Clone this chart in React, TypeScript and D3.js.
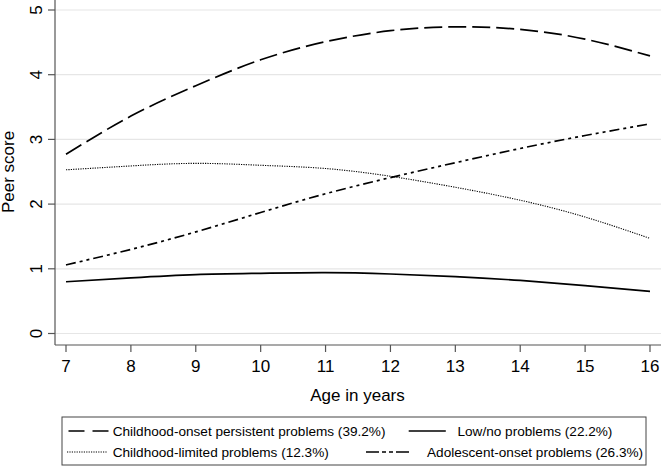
import React from "react";
import * as d3 from "d3";

const ages = [7, 8, 9, 10, 11, 12, 13, 14, 15, 16];
const childhoodOnset = [2.77, 3.36, 3.83, 4.23, 4.51, 4.68, 4.74, 4.70, 4.55, 4.29];
const lowNo = [0.80, 0.86, 0.91, 0.93, 0.94, 0.92, 0.88, 0.82, 0.74, 0.65];
const childhoodLimited = [2.53, 2.59, 2.63, 2.60, 2.55, 2.43, 2.26, 2.06, 1.80, 1.47];
const adolescentOnset = [1.06, 1.30, 1.57, 1.87, 2.16, 2.41, 2.64, 2.86, 3.06, 3.24];
const yTicks = [0, 1, 2, 3, 4, 5];
const xTicks = [7, 8, 9, 10, 11, 12, 13, 14, 15, 16];

const W = 661;
const H = 468;
const FONT = "'Liberation Sans', Arial, sans-serif";

const x = d3.scaleLinear().domain([7, 16]).range([66, 650]);
const y = d3.scaleLinear().domain([0, 5]).range([333.5, 10]);

const line = d3
  .line<number>()
  .x((_, i) => x(ages[i]))
  .y((d) => y(d))
  .curve(d3.curveNatural);

const series = [
  { name: "Childhood-onset persistent problems (39.2%)", values: childhoodOnset, dash: "18 6", width: 1.7 },
  { name: "Low/no problems (22.2%)", values: lowNo, dash: "", width: 1.7 },
  { name: "Childhood-limited problems (12.3%)", values: childhoodLimited, dash: "1.2 1.2", width: 1.1 },
  { name: "Adolescent-onset problems (26.3%)", values: adolescentOnset, dash: "10 4 3 4 3 4", width: 1.7 },
];

const legendItems = [
  { s: 0, x1: 68.5, x2: 108.5, tx: 112.7, ty: 436, dash: "16 8" },
  { s: 1, x1: 408.7, x2: 445.8, tx: 457.5, ty: 436, dash: "" },
  { s: 2, x1: 67, x2: 107, tx: 112.7, ty: 457, dash: "1.2 1.2" },
  { s: 3, x1: 366, x2: 420.5, tx: 427, ty: 457, dash: "13 3 4 3 4 3 13" },
];

export default function App() {
  return (
    <svg
      width={W}
      height={H}
      style={{ position: "absolute", left: 0, top: 0, background: "#fff", display: "block" }}
      fontFamily={FONT}
    >
      <rect x={0} y={0} width={W} height={H} fill="#fff" />
      {/* gridlines */}
      {yTicks.map((t) => (
        <line key={"g" + t} x1={55} x2={661} y1={y(t)} y2={y(t)} stroke="#e6e6e6" strokeWidth={1.2} />
      ))}
      {/* axes */}
      <line x1={55} x2={55} y1={0} y2={345} stroke="#555" strokeWidth={1.2} />
      <line x1={55} x2={661} y1={345} y2={345} stroke="#555" strokeWidth={1.2} />
      {yTicks.map((t) => (
        <g key={"yt" + t}>
          <line x1={48} x2={55} y1={y(t)} y2={y(t)} stroke="#555" strokeWidth={1.2} />
          <text
            transform={`translate(41.5,${y(t)}) rotate(-90)`}
            textAnchor="middle"
            fontSize={17}
            fill="#000"
          >
            {t}
          </text>
        </g>
      ))}
      {xTicks.map((t) => (
        <g key={"xt" + t}>
          <line x1={x(t)} x2={x(t)} y1={345} y2={352} stroke="#555" strokeWidth={1.2} />
          <text x={x(t)} y={371.7} textAnchor="middle" fontSize={17} fill="#000">
            {t}
          </text>
        </g>
      ))}
      <text x={357.5} y={400.5} textAnchor="middle" fontSize={17} fill="#000">
        Age in years
      </text>
      <text transform={`translate(14,172) rotate(-90)`} textAnchor="middle" fontSize={17} fill="#000">
        Peer score
      </text>
      {/* lines */}
      {series.map((s) => (
        <path
          key={s.name}
          d={line(s.values) || ""}
          fill="none"
          stroke="#000"
          strokeWidth={s.width}
          strokeDasharray={s.dash || undefined}
        />
      ))}
      {/* legend */}
      <rect x={62} y={417} width={584} height={48} fill="#fff" stroke="#444" strokeWidth={1} />
      {legendItems.map((l) => (
        <g key={"l" + l.s}>
          <line
            x1={l.x1}
            x2={l.x2}
            y1={l.ty - 5}
            y2={l.ty - 5}
            stroke="#000"
            strokeWidth={series[l.s].width}
            strokeDasharray={l.dash || undefined}
          />
          <text x={l.tx} y={l.ty} fontSize={13.6} fill="#000">
            {series[l.s].name}
          </text>
        </g>
      ))}
    </svg>
  );
}
